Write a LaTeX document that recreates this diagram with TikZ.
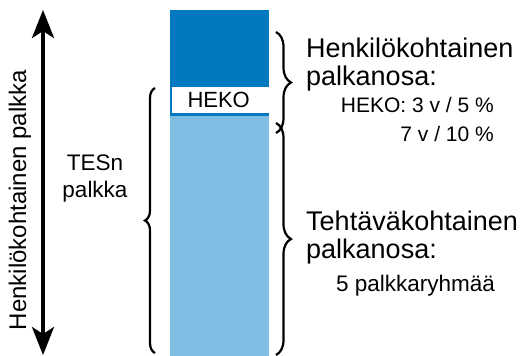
\documentclass[tikz,border=0pt]{standalone}
\usepackage{fontspec}
\setmainfont{Liberation Sans}
\usetikzlibrary{arrows.meta,decorations.pathreplacing,positioning}
\definecolor{hekoblue}{RGB}{0,121,193}
\definecolor{tesblue}{RGB}{128,189,226}
\tikzset{
  barpart/.style={inner sep=0pt, outer sep=0pt, anchor=north west, minimum width=99pt},
  bigtext/.style={inner sep=0pt, anchor=base west, align=left, font=\fontsize{27}{28}\selectfont},
  smalltext/.style={inner sep=0pt, font=\fontsize{21}{29}\selectfont},
  curly/.style={decorate, decoration={brace, amplitude=#1}, line width=2.2pt},
  bigarrow/.style={line width=4pt, {Stealth[length=28pt,width=22pt,inset=7pt]}-{Stealth[length=28pt,width=22pt,inset=7pt]}}
}
\begin{document}
\begin{tikzpicture}[x=1pt,y=1pt]
\useasboundingbox (0,0) rectangle (522,-356);
\node[barpart, fill=hekoblue, minimum height=106pt] (top) at (170,-10) {};
\node[barpart, fill=tesblue, minimum height=240pt] (tes) at (170,-116) {};
\node[barpart, fill=white, text width=68pt, align=left, inner xsep=13pt, minimum height=26pt,
  font=\fontsize{22}{22}\selectfont] (heko) at (172,-87) {HEKO};

\coordinate (up) at (43,-10);
\coordinate (down) at (43,-355);
\draw[bigarrow] (down) -- (up);
\node[rotate=90, font=\fontsize{24}{24}\selectfont] (henkpalkka) at (20,-200) {Henkilökohtainen palkka};
\node[inner sep=0pt, anchor=base, align=center, font=\fontsize{22.5}{27}\selectfont] (tesn) at (95,-197) {TESn\\palkka};

\coordinate (tesbot) at (155,-353);
\coordinate (testop) at (155,-88);
\draw[curly=10pt] (tesbot) -- (testop);

\coordinate (henktop) at (276,-32);
\coordinate (henkbot) at (276,-133);
\coordinate (tehttop) at (276,-123);
\coordinate (tehtbot) at (276,-355);
\draw[curly=15pt] (henktop) -- (henkbot);
\draw[curly=15pt] (tehttop) -- (tehtbot);

\node[bigtext] (henkosa) at (306,-85) {Henkilökohtainen\\palkanosa:};
\node[smalltext, anchor=base east, align=right] (hekoehto) at (494,-141) {HEKO: 3 v / 5 \%\\7 v / 10 \%};
\node[bigtext] (tehtosa) at (306,-258) {Tehtäväkohtainen\\palkanosa:};
\node[smalltext, font=\fontsize{22.5}{28}\selectfont, anchor=base west] (ryhmat) at (336,-291) {5 palkkaryhmää};
\end{tikzpicture}
\end{document}
